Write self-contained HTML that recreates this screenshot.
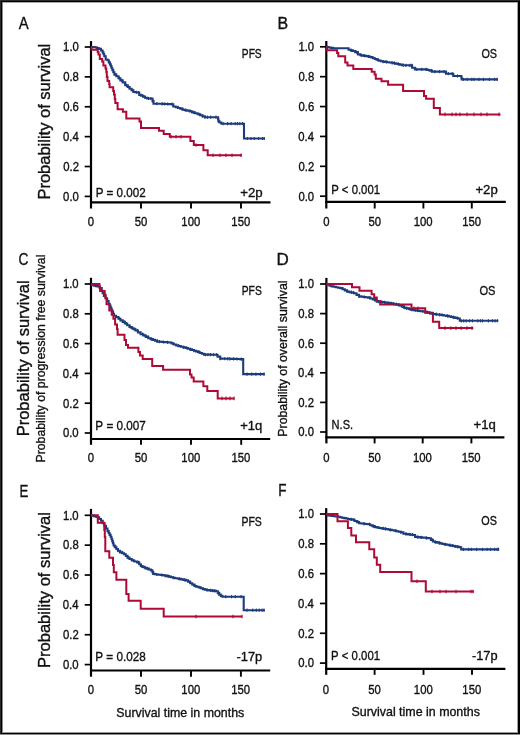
<!DOCTYPE html>
<html><head><meta charset="utf-8"><style>
html,body{margin:0;padding:0;background:#fff;}
body{width:520px;height:735px;overflow:hidden;}
svg{display:block;will-change:transform;}
#w{width:520px;height:735px;}
text{font-family:"Liberation Sans",sans-serif;font-kerning:none;stroke:#111;stroke-width:0.35px;}
</style></head><body>
<div id="w">
<svg width="520" height="735" viewBox="0 0 520 735">
<rect x="0" y="0" width="520" height="735" fill="#fff"/>
<g shape-rendering="crispEdges">
<rect x="0" y="0" width="520" height="1" fill="#2a2a2a"/>
<rect x="0" y="0" width="1" height="735" fill="#2a2a2a"/>
<rect x="1" y="1" width="519" height="1" fill="#000"/>
<rect x="1" y="1" width="1" height="733" fill="#000"/>
<rect x="2" y="2" width="515" height="1" fill="#a8a8a8"/>
<rect x="2" y="2" width="1" height="730" fill="#8a8a8a"/>
<rect x="517" y="2" width="1" height="731" fill="#a0a0a0"/>
<rect x="518" y="1" width="2" height="733" fill="#000"/>
<rect x="2" y="732" width="516" height="1" fill="#9a9a9a"/>
<rect x="1" y="733" width="519" height="1" fill="#000"/>
<rect x="0" y="734" width="520" height="1" fill="#8c8c8c"/>
</g>
<line x1="91.0" y1="41.1" x2="91.0" y2="208.5" stroke="#000" stroke-width="2.2" stroke-linecap="butt"/>
<line x1="90.0" y1="202.3" x2="270.5" y2="202.3" stroke="#000" stroke-width="2.2" stroke-linecap="butt"/>
<line x1="84.7" y1="47.0" x2="91.0" y2="47.0" stroke="#000" stroke-width="1.7" stroke-linecap="butt"/>
<text x="63.11" y="51.30" font-size="12.3" textLength="15.73" lengthAdjust="spacingAndGlyphs" fill="#111">1.0</text>
<line x1="84.7" y1="76.88" x2="91.0" y2="76.88" stroke="#000" stroke-width="1.7" stroke-linecap="butt"/>
<text x="63.16" y="81.18" font-size="12.3" textLength="15.73" lengthAdjust="spacingAndGlyphs" fill="#111">0.8</text>
<line x1="84.7" y1="106.76" x2="91.0" y2="106.76" stroke="#000" stroke-width="1.7" stroke-linecap="butt"/>
<text x="63.17" y="111.06" font-size="12.3" textLength="15.73" lengthAdjust="spacingAndGlyphs" fill="#111">0.6</text>
<line x1="84.7" y1="136.64" x2="91.0" y2="136.64" stroke="#000" stroke-width="1.7" stroke-linecap="butt"/>
<text x="63.00" y="140.94" font-size="12.3" textLength="15.73" lengthAdjust="spacingAndGlyphs" fill="#111">0.4</text>
<line x1="84.7" y1="166.52" x2="91.0" y2="166.52" stroke="#000" stroke-width="1.7" stroke-linecap="butt"/>
<text x="63.24" y="170.82" font-size="12.3" textLength="15.73" lengthAdjust="spacingAndGlyphs" fill="#111">0.2</text>
<line x1="84.7" y1="196.4" x2="91.0" y2="196.4" stroke="#000" stroke-width="1.7" stroke-linecap="butt"/>
<text x="63.11" y="200.70" font-size="12.3" textLength="15.73" lengthAdjust="spacingAndGlyphs" fill="#111">0.0</text>
<text x="87.85" y="225.70" font-size="12.3" textLength="6.29" lengthAdjust="spacingAndGlyphs" fill="#111">0</text>
<line x1="141" y1="202.3" x2="141" y2="208.5" stroke="#000" stroke-width="1.9" stroke-linecap="butt"/>
<text x="134.70" y="225.70" font-size="12.3" textLength="12.59" lengthAdjust="spacingAndGlyphs" fill="#111">50</text>
<line x1="191" y1="202.3" x2="191" y2="208.5" stroke="#000" stroke-width="1.9" stroke-linecap="butt"/>
<text x="181.35" y="225.70" font-size="12.3" textLength="18.88" lengthAdjust="spacingAndGlyphs" fill="#111">100</text>
<line x1="241" y1="202.3" x2="241" y2="208.5" stroke="#000" stroke-width="1.9" stroke-linecap="butt"/>
<text x="231.35" y="225.70" font-size="12.3" textLength="18.88" lengthAdjust="spacingAndGlyphs" fill="#111">150</text>
<line x1="326.3" y1="41.0" x2="326.3" y2="208.5" stroke="#000" stroke-width="2.2" stroke-linecap="butt"/>
<line x1="325.3" y1="201.9" x2="505.8" y2="201.9" stroke="#000" stroke-width="2.2" stroke-linecap="butt"/>
<line x1="320.0" y1="46.8" x2="326.3" y2="46.8" stroke="#000" stroke-width="1.7" stroke-linecap="butt"/>
<text x="298.41" y="51.10" font-size="12.3" textLength="15.73" lengthAdjust="spacingAndGlyphs" fill="#111">1.0</text>
<line x1="320.0" y1="76.68" x2="326.3" y2="76.68" stroke="#000" stroke-width="1.7" stroke-linecap="butt"/>
<text x="298.46" y="80.98" font-size="12.3" textLength="15.73" lengthAdjust="spacingAndGlyphs" fill="#111">0.8</text>
<line x1="320.0" y1="106.56" x2="326.3" y2="106.56" stroke="#000" stroke-width="1.7" stroke-linecap="butt"/>
<text x="298.47" y="110.86" font-size="12.3" textLength="15.73" lengthAdjust="spacingAndGlyphs" fill="#111">0.6</text>
<line x1="320.0" y1="136.44" x2="326.3" y2="136.44" stroke="#000" stroke-width="1.7" stroke-linecap="butt"/>
<text x="298.30" y="140.74" font-size="12.3" textLength="15.73" lengthAdjust="spacingAndGlyphs" fill="#111">0.4</text>
<line x1="320.0" y1="166.32" x2="326.3" y2="166.32" stroke="#000" stroke-width="1.7" stroke-linecap="butt"/>
<text x="298.54" y="170.62" font-size="12.3" textLength="15.73" lengthAdjust="spacingAndGlyphs" fill="#111">0.2</text>
<line x1="320.0" y1="196.2" x2="326.3" y2="196.2" stroke="#000" stroke-width="1.7" stroke-linecap="butt"/>
<text x="298.41" y="200.50" font-size="12.3" textLength="15.73" lengthAdjust="spacingAndGlyphs" fill="#111">0.0</text>
<text x="323.15" y="225.80" font-size="12.3" textLength="6.29" lengthAdjust="spacingAndGlyphs" fill="#111">0</text>
<line x1="374.7" y1="201.9" x2="374.7" y2="208.5" stroke="#000" stroke-width="1.9" stroke-linecap="butt"/>
<text x="368.40" y="225.80" font-size="12.3" textLength="12.59" lengthAdjust="spacingAndGlyphs" fill="#111">50</text>
<line x1="423.4" y1="201.9" x2="423.4" y2="208.5" stroke="#000" stroke-width="1.9" stroke-linecap="butt"/>
<text x="413.75" y="225.80" font-size="12.3" textLength="18.88" lengthAdjust="spacingAndGlyphs" fill="#111">100</text>
<line x1="471.8" y1="201.9" x2="471.8" y2="208.5" stroke="#000" stroke-width="1.9" stroke-linecap="butt"/>
<text x="462.15" y="225.80" font-size="12.3" textLength="18.88" lengthAdjust="spacingAndGlyphs" fill="#111">150</text>
<line x1="91.0" y1="277.8" x2="91.0" y2="444.8" stroke="#000" stroke-width="2.2" stroke-linecap="butt"/>
<line x1="90.0" y1="439.0" x2="270.2" y2="439.0" stroke="#000" stroke-width="2.2" stroke-linecap="butt"/>
<line x1="84.7" y1="284.0" x2="91.0" y2="284.0" stroke="#000" stroke-width="1.7" stroke-linecap="butt"/>
<text x="62.91" y="288.30" font-size="12.3" textLength="15.73" lengthAdjust="spacingAndGlyphs" fill="#111">1.0</text>
<line x1="84.7" y1="313.8" x2="91.0" y2="313.8" stroke="#000" stroke-width="1.7" stroke-linecap="butt"/>
<text x="62.96" y="318.10" font-size="12.3" textLength="15.73" lengthAdjust="spacingAndGlyphs" fill="#111">0.8</text>
<line x1="84.7" y1="343.6" x2="91.0" y2="343.6" stroke="#000" stroke-width="1.7" stroke-linecap="butt"/>
<text x="62.97" y="347.90" font-size="12.3" textLength="15.73" lengthAdjust="spacingAndGlyphs" fill="#111">0.6</text>
<line x1="84.7" y1="373.4" x2="91.0" y2="373.4" stroke="#000" stroke-width="1.7" stroke-linecap="butt"/>
<text x="62.80" y="377.70" font-size="12.3" textLength="15.73" lengthAdjust="spacingAndGlyphs" fill="#111">0.4</text>
<line x1="84.7" y1="403.2" x2="91.0" y2="403.2" stroke="#000" stroke-width="1.7" stroke-linecap="butt"/>
<text x="63.04" y="407.50" font-size="12.3" textLength="15.73" lengthAdjust="spacingAndGlyphs" fill="#111">0.2</text>
<line x1="84.7" y1="433.0" x2="91.0" y2="433.0" stroke="#000" stroke-width="1.7" stroke-linecap="butt"/>
<text x="62.91" y="437.30" font-size="12.3" textLength="15.73" lengthAdjust="spacingAndGlyphs" fill="#111">0.0</text>
<text x="87.85" y="461.90" font-size="12.3" textLength="6.29" lengthAdjust="spacingAndGlyphs" fill="#111">0</text>
<line x1="141" y1="439.0" x2="141" y2="444.8" stroke="#000" stroke-width="1.9" stroke-linecap="butt"/>
<text x="134.70" y="461.90" font-size="12.3" textLength="12.59" lengthAdjust="spacingAndGlyphs" fill="#111">50</text>
<line x1="191" y1="439.0" x2="191" y2="444.8" stroke="#000" stroke-width="1.9" stroke-linecap="butt"/>
<text x="181.35" y="461.90" font-size="12.3" textLength="18.88" lengthAdjust="spacingAndGlyphs" fill="#111">100</text>
<line x1="241.2" y1="439.0" x2="241.2" y2="444.8" stroke="#000" stroke-width="1.9" stroke-linecap="butt"/>
<text x="231.55" y="461.90" font-size="12.3" textLength="18.88" lengthAdjust="spacingAndGlyphs" fill="#111">150</text>
<line x1="326.4" y1="277.9" x2="326.4" y2="443.4" stroke="#000" stroke-width="2.2" stroke-linecap="butt"/>
<line x1="325.4" y1="437.4" x2="504.4" y2="437.4" stroke="#000" stroke-width="2.2" stroke-linecap="butt"/>
<line x1="320.09999999999997" y1="284.0" x2="326.4" y2="284.0" stroke="#000" stroke-width="1.7" stroke-linecap="butt"/>
<text x="298.21" y="288.30" font-size="12.3" textLength="15.73" lengthAdjust="spacingAndGlyphs" fill="#111">1.0</text>
<line x1="320.09999999999997" y1="313.6" x2="326.4" y2="313.6" stroke="#000" stroke-width="1.7" stroke-linecap="butt"/>
<text x="298.26" y="317.90" font-size="12.3" textLength="15.73" lengthAdjust="spacingAndGlyphs" fill="#111">0.8</text>
<line x1="320.09999999999997" y1="343.2" x2="326.4" y2="343.2" stroke="#000" stroke-width="1.7" stroke-linecap="butt"/>
<text x="298.27" y="347.50" font-size="12.3" textLength="15.73" lengthAdjust="spacingAndGlyphs" fill="#111">0.6</text>
<line x1="320.09999999999997" y1="372.8" x2="326.4" y2="372.8" stroke="#000" stroke-width="1.7" stroke-linecap="butt"/>
<text x="298.10" y="377.10" font-size="12.3" textLength="15.73" lengthAdjust="spacingAndGlyphs" fill="#111">0.4</text>
<line x1="320.09999999999997" y1="402.4" x2="326.4" y2="402.4" stroke="#000" stroke-width="1.7" stroke-linecap="butt"/>
<text x="298.34" y="406.70" font-size="12.3" textLength="15.73" lengthAdjust="spacingAndGlyphs" fill="#111">0.2</text>
<line x1="320.09999999999997" y1="432.0" x2="326.4" y2="432.0" stroke="#000" stroke-width="1.7" stroke-linecap="butt"/>
<text x="298.21" y="436.30" font-size="12.3" textLength="15.73" lengthAdjust="spacingAndGlyphs" fill="#111">0.0</text>
<text x="323.25" y="462.00" font-size="12.3" textLength="6.29" lengthAdjust="spacingAndGlyphs" fill="#111">0</text>
<line x1="374.6" y1="437.4" x2="374.6" y2="443.4" stroke="#000" stroke-width="1.9" stroke-linecap="butt"/>
<text x="368.30" y="462.00" font-size="12.3" textLength="12.59" lengthAdjust="spacingAndGlyphs" fill="#111">50</text>
<line x1="422.7" y1="437.4" x2="422.7" y2="443.4" stroke="#000" stroke-width="1.9" stroke-linecap="butt"/>
<text x="413.05" y="462.00" font-size="12.3" textLength="18.88" lengthAdjust="spacingAndGlyphs" fill="#111">100</text>
<line x1="471.4" y1="437.4" x2="471.4" y2="443.4" stroke="#000" stroke-width="1.9" stroke-linecap="butt"/>
<text x="461.75" y="462.00" font-size="12.3" textLength="18.88" lengthAdjust="spacingAndGlyphs" fill="#111">150</text>
<line x1="91.0" y1="508.9" x2="91.0" y2="676.7" stroke="#000" stroke-width="2.2" stroke-linecap="butt"/>
<line x1="90.0" y1="670.5" x2="270.2" y2="670.5" stroke="#000" stroke-width="2.2" stroke-linecap="butt"/>
<line x1="84.7" y1="515.3" x2="91.0" y2="515.3" stroke="#000" stroke-width="1.7" stroke-linecap="butt"/>
<text x="62.91" y="519.60" font-size="12.3" textLength="15.73" lengthAdjust="spacingAndGlyphs" fill="#111">1.0</text>
<line x1="84.7" y1="545.16" x2="91.0" y2="545.16" stroke="#000" stroke-width="1.7" stroke-linecap="butt"/>
<text x="62.96" y="549.46" font-size="12.3" textLength="15.73" lengthAdjust="spacingAndGlyphs" fill="#111">0.8</text>
<line x1="84.7" y1="575.02" x2="91.0" y2="575.02" stroke="#000" stroke-width="1.7" stroke-linecap="butt"/>
<text x="62.97" y="579.32" font-size="12.3" textLength="15.73" lengthAdjust="spacingAndGlyphs" fill="#111">0.6</text>
<line x1="84.7" y1="604.88" x2="91.0" y2="604.88" stroke="#000" stroke-width="1.7" stroke-linecap="butt"/>
<text x="62.80" y="609.18" font-size="12.3" textLength="15.73" lengthAdjust="spacingAndGlyphs" fill="#111">0.4</text>
<line x1="84.7" y1="634.74" x2="91.0" y2="634.74" stroke="#000" stroke-width="1.7" stroke-linecap="butt"/>
<text x="63.04" y="639.04" font-size="12.3" textLength="15.73" lengthAdjust="spacingAndGlyphs" fill="#111">0.2</text>
<line x1="84.7" y1="664.6" x2="91.0" y2="664.6" stroke="#000" stroke-width="1.7" stroke-linecap="butt"/>
<text x="62.91" y="668.90" font-size="12.3" textLength="15.73" lengthAdjust="spacingAndGlyphs" fill="#111">0.0</text>
<text x="87.85" y="693.80" font-size="12.3" textLength="6.29" lengthAdjust="spacingAndGlyphs" fill="#111">0</text>
<line x1="141" y1="670.5" x2="141" y2="676.7" stroke="#000" stroke-width="1.9" stroke-linecap="butt"/>
<text x="134.70" y="693.80" font-size="12.3" textLength="12.59" lengthAdjust="spacingAndGlyphs" fill="#111">50</text>
<line x1="191" y1="670.5" x2="191" y2="676.7" stroke="#000" stroke-width="1.9" stroke-linecap="butt"/>
<text x="181.35" y="693.80" font-size="12.3" textLength="18.88" lengthAdjust="spacingAndGlyphs" fill="#111">100</text>
<line x1="240.9" y1="670.5" x2="240.9" y2="676.7" stroke="#000" stroke-width="1.9" stroke-linecap="butt"/>
<text x="231.25" y="693.80" font-size="12.3" textLength="18.88" lengthAdjust="spacingAndGlyphs" fill="#111">150</text>
<line x1="326.2" y1="508.1" x2="326.2" y2="674.8" stroke="#000" stroke-width="2.2" stroke-linecap="butt"/>
<line x1="325.2" y1="668.9" x2="505.4" y2="668.9" stroke="#000" stroke-width="2.2" stroke-linecap="butt"/>
<line x1="319.9" y1="514.0" x2="326.2" y2="514.0" stroke="#000" stroke-width="1.7" stroke-linecap="butt"/>
<text x="298.21" y="518.30" font-size="12.3" textLength="15.73" lengthAdjust="spacingAndGlyphs" fill="#111">1.0</text>
<line x1="319.9" y1="543.82" x2="326.2" y2="543.82" stroke="#000" stroke-width="1.7" stroke-linecap="butt"/>
<text x="298.26" y="548.12" font-size="12.3" textLength="15.73" lengthAdjust="spacingAndGlyphs" fill="#111">0.8</text>
<line x1="319.9" y1="573.64" x2="326.2" y2="573.64" stroke="#000" stroke-width="1.7" stroke-linecap="butt"/>
<text x="298.27" y="577.94" font-size="12.3" textLength="15.73" lengthAdjust="spacingAndGlyphs" fill="#111">0.6</text>
<line x1="319.9" y1="603.46" x2="326.2" y2="603.46" stroke="#000" stroke-width="1.7" stroke-linecap="butt"/>
<text x="298.10" y="607.76" font-size="12.3" textLength="15.73" lengthAdjust="spacingAndGlyphs" fill="#111">0.4</text>
<line x1="319.9" y1="633.28" x2="326.2" y2="633.28" stroke="#000" stroke-width="1.7" stroke-linecap="butt"/>
<text x="298.34" y="637.58" font-size="12.3" textLength="15.73" lengthAdjust="spacingAndGlyphs" fill="#111">0.2</text>
<line x1="319.9" y1="663.1" x2="326.2" y2="663.1" stroke="#000" stroke-width="1.7" stroke-linecap="butt"/>
<text x="298.21" y="667.40" font-size="12.3" textLength="15.73" lengthAdjust="spacingAndGlyphs" fill="#111">0.0</text>
<text x="322.75" y="693.80" font-size="12.3" textLength="6.29" lengthAdjust="spacingAndGlyphs" fill="#111">0</text>
<line x1="374.6" y1="668.9" x2="374.6" y2="674.8" stroke="#000" stroke-width="1.9" stroke-linecap="butt"/>
<text x="368.30" y="693.80" font-size="12.3" textLength="12.59" lengthAdjust="spacingAndGlyphs" fill="#111">50</text>
<line x1="423.5" y1="668.9" x2="423.5" y2="674.8" stroke="#000" stroke-width="1.9" stroke-linecap="butt"/>
<text x="413.85" y="693.80" font-size="12.3" textLength="18.88" lengthAdjust="spacingAndGlyphs" fill="#111">100</text>
<line x1="472.0" y1="668.9" x2="472.0" y2="674.8" stroke="#000" stroke-width="1.9" stroke-linecap="butt"/>
<text x="462.35" y="693.80" font-size="12.3" textLength="18.88" lengthAdjust="spacingAndGlyphs" fill="#111">150</text>
<text x="18.87" y="28.60" font-size="17" textLength="9.91" lengthAdjust="spacingAndGlyphs" fill="#111">A</text>
<text x="277.39" y="28.60" font-size="17" textLength="10.65" lengthAdjust="spacingAndGlyphs" fill="#111">B</text>
<text x="18.60" y="265.20" font-size="17" textLength="9.92" lengthAdjust="spacingAndGlyphs" fill="#111">C</text>
<text x="276.60" y="265.40" font-size="17" textLength="12.31" lengthAdjust="spacingAndGlyphs" fill="#111">D</text>
<text x="19.51" y="496.80" font-size="17" textLength="8.86" lengthAdjust="spacingAndGlyphs" fill="#111">E</text>
<text x="278.29" y="495.50" font-size="17" textLength="8.25" lengthAdjust="spacingAndGlyphs" fill="#111">F</text>
<text x="241.86" y="57.50" font-size="13" textLength="19.80" lengthAdjust="spacingAndGlyphs" fill="#111">PFS</text>
<text x="481.39" y="57.80" font-size="13" textLength="15.61" lengthAdjust="spacingAndGlyphs" fill="#111">OS</text>
<text x="241.76" y="294.70" font-size="13" textLength="20.02" lengthAdjust="spacingAndGlyphs" fill="#111">PFS</text>
<text x="479.47" y="294.80" font-size="13" textLength="16.04" lengthAdjust="spacingAndGlyphs" fill="#111">OS</text>
<text x="241.44" y="526.00" font-size="13" textLength="20.34" lengthAdjust="spacingAndGlyphs" fill="#111">PFS</text>
<text x="481.29" y="525.00" font-size="13" textLength="15.61" lengthAdjust="spacingAndGlyphs" fill="#111">OS</text>
<text x="95.65" y="196.70" font-size="13" textLength="50.04" lengthAdjust="spacingAndGlyphs" fill="#111">P = 0.002</text>
<text x="331.17" y="193.60" font-size="13" textLength="48.88" lengthAdjust="spacingAndGlyphs" fill="#111">P &lt; 0.001</text>
<text x="95.34" y="429.80" font-size="13" textLength="50.45" lengthAdjust="spacingAndGlyphs" fill="#111">P = 0.007</text>
<text x="331.59" y="428.70" font-size="13" textLength="21.52" lengthAdjust="spacingAndGlyphs" fill="#111">N.S.</text>
<text x="95.34" y="661.20" font-size="13" textLength="50.37" lengthAdjust="spacingAndGlyphs" fill="#111">P = 0.028</text>
<text x="331.07" y="659.90" font-size="13" textLength="48.99" lengthAdjust="spacingAndGlyphs" fill="#111">P &lt; 0.001</text>
<text x="240.15" y="196.80" font-size="13" textLength="22.50" lengthAdjust="spacingAndGlyphs" fill="#111">+2p</text>
<text x="475.46" y="194.10" font-size="13" textLength="22.29" lengthAdjust="spacingAndGlyphs" fill="#111">+2p</text>
<text x="240.26" y="429.70" font-size="13" textLength="22.07" lengthAdjust="spacingAndGlyphs" fill="#111">+1q</text>
<text x="473.56" y="428.70" font-size="13" textLength="22.28" lengthAdjust="spacingAndGlyphs" fill="#111">+1q</text>
<text x="236.43" y="661.30" font-size="13" textLength="25.81" lengthAdjust="spacingAndGlyphs" fill="#111">-17p</text>
<text x="471.93" y="660.00" font-size="13" textLength="25.61" lengthAdjust="spacingAndGlyphs" fill="#111">-17p</text>
<text transform="translate(49.90,198.20) rotate(-90)" x="-1.35" y="0" font-size="17" textLength="155.76" lengthAdjust="spacingAndGlyphs" fill="#111">Probability of survival</text>
<text transform="translate(28.90,435.00) rotate(-90)" x="-1.35" y="0" font-size="17" textLength="155.96" lengthAdjust="spacingAndGlyphs" fill="#111">Probability of survival</text>
<text transform="translate(49.90,666.60) rotate(-90)" x="-1.35" y="0" font-size="17" textLength="155.86" lengthAdjust="spacingAndGlyphs" fill="#111">Probability of survival</text>
<text transform="translate(44.80,461.50) rotate(-90)" x="-1.01" y="0" font-size="13" textLength="207.93" lengthAdjust="spacingAndGlyphs" fill="#111">Probability of progression free survival</text>
<text transform="translate(286.70,435.70) rotate(-90)" x="-1.01" y="0" font-size="12.6" textLength="156.24" lengthAdjust="spacingAndGlyphs" fill="#111">Probability of overall survival</text>
<text x="116.34" y="717.00" font-size="13" textLength="127.91" lengthAdjust="spacingAndGlyphs" fill="#111">Survival time in months</text>
<text x="351.54" y="716.00" font-size="13" textLength="128.31" lengthAdjust="spacingAndGlyphs" fill="#111">Survival time in months</text>
<polyline points="91.0,47.0 92.2,47.0 92.2,47.1 94.5,47.1 94.5,47.3 95.7,47.3 96.7,47.3 96.7,48.1 98.8,48.1 98.8,48.9 99.8,48.9 101.0,48.9 101.0,50.5 102.2,50.5 102.6,50.5 102.6,52.4 103.5,52.4 103.5,54.3 104.3,54.3 104.3,56.2 104.7,56.2 105.7,56.2 105.7,59.5 106.7,59.5 107.5,59.5 107.5,60.3 108.3,60.3 108.8,60.3 108.8,62.4 109.9,62.4 109.9,64.4 110.4,64.4 110.8,64.4 110.8,66.3 111.6,66.3 111.6,68.2 112.4,68.2 112.4,70.1 112.8,70.1 113.3,70.1 113.3,72.3 114.4,72.3 114.4,74.6 114.9,74.6 116.3,74.6 116.3,76.2 117.7,76.2 118.5,76.2 118.5,78.2 119.3,78.2 120.4,78.2 120.4,80.4 121.5,80.4 122.7,80.4 122.7,82.4 123.8,82.4 125.2,82.4 125.2,85.3 126.7,85.3 127.7,85.3 127.7,87.0 129.6,87.0 129.6,88.7 130.6,88.7 131.6,88.7 131.6,90.3 133.4,90.3 133.4,92.0 134.4,92.0 135.4,92.0 135.4,92.2 137.3,92.2 137.3,92.5 138.3,92.5 139.2,92.5 139.2,94.9 140.2,94.9 141.1,94.9 141.1,95.8 143.1,95.8 143.1,96.8 144.0,96.8 145.0,96.8 145.0,97.7 147.0,97.7 147.0,98.5 148.0,98.5 152.0,98.5 152.5,98.5 152.5,101.1 153.5,101.1 153.5,103.7 154.0,103.7 159.0,103.7 160.1,103.7 160.1,103.8 162.2,103.8 162.2,103.9 164.4,103.9 164.4,104.0 166.6,104.0 166.6,104.0 168.8,104.0 168.8,104.1 170.9,104.1 170.9,104.2 172.0,104.2 173.3,104.2 173.3,106.5 174.6,106.5 175.7,106.5 175.7,107.2 178.0,107.2 178.0,108.0 179.2,108.0 180.3,108.0 180.3,108.8 182.7,108.8 182.7,109.7 183.8,109.7 185.0,109.7 185.0,110.2 187.3,110.2 187.3,110.6 188.5,110.6 189.8,110.6 189.8,111.5 192.2,111.5 192.2,112.4 193.5,112.4 194.9,112.4 194.9,113.3 197.6,113.3 197.6,114.3 199.0,114.3 200.2,114.3 200.2,115.3 202.5,115.3 202.5,116.2 204.8,116.2 204.8,117.2 206.0,117.2 218.0,117.2 218.1,117.2 218.1,119.2 218.4,119.2 218.4,121.2 218.5,121.2 219.5,121.2 219.5,122.5 221.4,122.5 221.4,123.7 222.4,123.7 244.0,123.7 244.0,138.5 265.0,138.5" fill="none" stroke="#1d3c7c" stroke-width="2.1" stroke-linejoin="miter" stroke-linecap="butt"/>
<polyline points="91.0,47.0 91.5,47.0 91.5,49.7 97.7,49.7 97.7,52.0 98.5,52.0 98.5,54.6 99.8,54.6 99.8,59.1 102.2,59.1 102.2,61.5 103.4,61.5 103.4,65.6 105.5,65.6 105.5,68.4 106.3,68.4 106.3,72.0 106.8,72.0 106.8,77.0 107.5,77.0 107.5,81.1 109.2,81.1 109.2,84.0 109.6,84.0 109.6,87.2 113.2,87.2 113.2,91.0 114.0,91.0 114.0,94.5 114.8,94.5 114.8,99.0 115.3,99.0 115.3,103.1 117.6,103.1 117.6,109.3 122.9,109.3 122.9,111.7 126.3,111.7 126.3,118.5 139.5,118.5 139.5,121.5 141.0,121.5 141.0,128.0 159.0,128.0 159.0,130.8 163.7,130.8 163.7,134.0 169.8,134.0 169.8,136.8 190.4,136.8 190.4,141.0 193.8,141.0 193.8,145.0 203.4,145.0 203.4,150.2 207.7,150.2 207.7,155.2 242.0,155.2" fill="none" stroke="#ad0a35" stroke-width="2.0" stroke-linejoin="miter" stroke-linecap="butt"/>
<line x1="116.0" y1="73.0" x2="116.0" y2="76.2" stroke="#1d3c7c" stroke-width="1.1"/>
<line x1="119.3" y1="76.6" x2="119.3" y2="79.8" stroke="#1d3c7c" stroke-width="1.1"/>
<line x1="121.9" y1="78.8" x2="121.9" y2="82.0" stroke="#1d3c7c" stroke-width="1.1"/>
<line x1="126.5" y1="83.7" x2="126.5" y2="86.9" stroke="#1d3c7c" stroke-width="1.1"/>
<line x1="128.8" y1="85.4" x2="128.8" y2="88.6" stroke="#1d3c7c" stroke-width="1.1"/>
<line x1="132.9" y1="88.8" x2="132.9" y2="91.9" stroke="#1d3c7c" stroke-width="1.1"/>
<line x1="136.4" y1="90.7" x2="136.4" y2="93.8" stroke="#1d3c7c" stroke-width="1.1"/>
<line x1="138.6" y1="90.9" x2="138.6" y2="94.1" stroke="#1d3c7c" stroke-width="1.1"/>
<line x1="142.7" y1="94.2" x2="142.7" y2="97.4" stroke="#1d3c7c" stroke-width="1.1"/>
<line x1="144.8" y1="95.2" x2="144.8" y2="98.4" stroke="#1d3c7c" stroke-width="1.1"/>
<line x1="148.5" y1="96.9" x2="148.5" y2="100.1" stroke="#1d3c7c" stroke-width="1.1"/>
<line x1="150.8" y1="96.9" x2="150.8" y2="100.1" stroke="#1d3c7c" stroke-width="1.1"/>
<line x1="153.2" y1="99.5" x2="153.2" y2="102.7" stroke="#1d3c7c" stroke-width="1.1"/>
<line x1="156.9" y1="102.1" x2="156.9" y2="105.3" stroke="#1d3c7c" stroke-width="1.1"/>
<line x1="162.2" y1="102.2" x2="162.2" y2="105.4" stroke="#1d3c7c" stroke-width="1.1"/>
<line x1="164.7" y1="102.4" x2="164.7" y2="105.5" stroke="#1d3c7c" stroke-width="1.1"/>
<line x1="167.6" y1="102.4" x2="167.6" y2="105.6" stroke="#1d3c7c" stroke-width="1.1"/>
<line x1="172.1" y1="102.6" x2="172.1" y2="105.8" stroke="#1d3c7c" stroke-width="1.1"/>
<line x1="177.9" y1="105.7" x2="177.9" y2="108.8" stroke="#1d3c7c" stroke-width="1.1"/>
<line x1="182.2" y1="107.2" x2="182.2" y2="110.4" stroke="#1d3c7c" stroke-width="1.1"/>
<line x1="185.8" y1="108.6" x2="185.8" y2="111.8" stroke="#1d3c7c" stroke-width="1.1"/>
<line x1="191.7" y1="109.9" x2="191.7" y2="113.1" stroke="#1d3c7c" stroke-width="1.1"/>
<line x1="193.9" y1="110.8" x2="193.9" y2="114.0" stroke="#1d3c7c" stroke-width="1.1"/>
<line x1="199.3" y1="112.7" x2="199.3" y2="115.9" stroke="#1d3c7c" stroke-width="1.1"/>
<line x1="202.5" y1="114.6" x2="202.5" y2="117.8" stroke="#1d3c7c" stroke-width="1.1"/>
<line x1="205.0" y1="115.6" x2="205.0" y2="118.8" stroke="#1d3c7c" stroke-width="1.1"/>
<line x1="207.5" y1="115.6" x2="207.5" y2="118.8" stroke="#1d3c7c" stroke-width="1.1"/>
<line x1="210.7" y1="115.6" x2="210.7" y2="118.8" stroke="#1d3c7c" stroke-width="1.1"/>
<line x1="216.0" y1="115.6" x2="216.0" y2="118.8" stroke="#1d3c7c" stroke-width="1.1"/>
<line x1="218.7" y1="119.6" x2="218.7" y2="122.8" stroke="#1d3c7c" stroke-width="1.1"/>
<line x1="223.1" y1="122.1" x2="223.1" y2="125.3" stroke="#1d3c7c" stroke-width="1.1"/>
<line x1="227.6" y1="122.1" x2="227.6" y2="125.3" stroke="#1d3c7c" stroke-width="1.1"/>
<line x1="231.1" y1="122.1" x2="231.1" y2="125.3" stroke="#1d3c7c" stroke-width="1.1"/>
<line x1="235.3" y1="122.1" x2="235.3" y2="125.3" stroke="#1d3c7c" stroke-width="1.1"/>
<line x1="237.5" y1="122.1" x2="237.5" y2="125.3" stroke="#1d3c7c" stroke-width="1.1"/>
<line x1="239.8" y1="122.1" x2="239.8" y2="125.3" stroke="#1d3c7c" stroke-width="1.1"/>
<line x1="242.6" y1="122.1" x2="242.6" y2="125.3" stroke="#1d3c7c" stroke-width="1.1"/>
<line x1="247.3" y1="136.9" x2="247.3" y2="140.1" stroke="#1d3c7c" stroke-width="1.1"/>
<line x1="251.0" y1="136.9" x2="251.0" y2="140.1" stroke="#1d3c7c" stroke-width="1.1"/>
<line x1="254.3" y1="136.9" x2="254.3" y2="140.1" stroke="#1d3c7c" stroke-width="1.1"/>
<line x1="258.6" y1="136.9" x2="258.6" y2="140.1" stroke="#1d3c7c" stroke-width="1.1"/>
<line x1="262.4" y1="136.9" x2="262.4" y2="140.1" stroke="#1d3c7c" stroke-width="1.1"/>
<line x1="264.2" y1="136.9" x2="264.2" y2="140.1" stroke="#1d3c7c" stroke-width="1.1"/>
<line x1="171.0" y1="135.0" x2="171.0" y2="138.6" stroke="#ad0a35" stroke-width="1.1"/>
<line x1="176.0" y1="135.0" x2="176.0" y2="138.6" stroke="#ad0a35" stroke-width="1.1"/>
<line x1="181.0" y1="135.0" x2="181.0" y2="138.6" stroke="#ad0a35" stroke-width="1.1"/>
<line x1="196.0" y1="143.2" x2="196.0" y2="146.8" stroke="#ad0a35" stroke-width="1.1"/>
<line x1="213.0" y1="153.4" x2="213.0" y2="157.0" stroke="#ad0a35" stroke-width="1.1"/>
<line x1="220.0" y1="153.4" x2="220.0" y2="157.0" stroke="#ad0a35" stroke-width="1.1"/>
<line x1="226.0" y1="153.4" x2="226.0" y2="157.0" stroke="#ad0a35" stroke-width="1.1"/>
<line x1="232.0" y1="153.4" x2="232.0" y2="157.0" stroke="#ad0a35" stroke-width="1.1"/>
<line x1="241.0" y1="153.4" x2="241.0" y2="157.0" stroke="#ad0a35" stroke-width="1.1"/>
<polyline points="326.3,46.8 327.1,46.8 327.1,47.1 328.8,47.1 328.8,47.5 329.6,47.5 330.8,47.5 330.8,47.9 333.1,47.9 333.1,48.3 334.2,48.3 347.5,48.3 348.6,48.3 348.6,49.8 349.8,49.8 350.8,49.8 350.8,50.4 352.8,50.4 352.8,51.0 353.8,51.0 355.2,51.0 355.2,52.1 356.7,52.1 357.9,52.1 357.9,54.4 359.0,54.4 360.4,54.4 360.4,55.3 361.9,55.3 362.8,55.3 362.8,55.6 364.5,55.6 364.5,55.9 365.4,55.9 366.2,55.9 366.2,56.1 367.9,56.1 367.9,56.4 368.8,56.4 369.7,56.4 369.7,57.0 371.4,57.0 371.4,57.5 372.3,57.5 373.2,57.5 373.2,58.2 374.9,58.2 374.9,59.0 375.8,59.0 376.6,59.0 376.6,59.8 378.4,59.8 378.4,60.5 379.2,60.5 380.6,60.5 380.6,61.3 382.1,61.3 383.0,61.3 383.0,61.6 384.9,61.6 384.9,61.9 385.8,61.9 387.0,61.9 387.0,62.2 389.2,62.2 389.2,62.5 391.6,62.5 391.6,62.8 392.7,62.8 393.7,62.8 393.7,63.2 395.6,63.2 395.6,63.6 397.5,63.6 397.5,64.0 398.5,64.0 399.6,64.0 399.6,64.6 402.0,64.6 402.0,65.2 403.1,65.2 404.4,65.2 404.4,65.3 406.9,65.3 406.9,65.3 409.4,65.3 409.4,65.4 410.6,65.4 412.1,65.4 412.1,67.7 413.5,67.7 414.9,67.7 414.9,69.4 416.3,69.4 426.2,69.4 427.4,69.4 427.4,70.0 429.6,70.0 429.6,70.6 430.8,70.6 431.9,70.6 431.9,71.6 433.0,71.6 445.1,71.6 446.0,71.6 446.0,73.7 446.8,73.7 452.9,73.7 453.3,73.7 453.3,76.0 453.7,76.0 461.2,76.0 461.4,76.0 461.4,77.7 461.7,77.7 461.7,79.4 461.9,79.4 497.9,79.4" fill="none" stroke="#1d3c7c" stroke-width="2.1" stroke-linejoin="miter" stroke-linecap="butt"/>
<polyline points="326.3,46.8 327.0,46.8 327.0,50.2 337.1,50.2 337.1,52.9 338.3,52.9 338.3,56.2 345.2,56.2 345.2,62.5 347.5,62.5 347.5,65.6 353.3,65.6 353.3,69.1 371.7,69.1 371.7,71.7 374.6,71.7 374.6,74.6 375.8,74.6 375.8,78.7 381.5,78.7 381.5,81.3 388.1,81.3 388.1,84.8 403.1,84.8 403.1,91.0 424.0,91.0 424.0,95.9 426.1,95.9 426.1,98.8 433.8,98.8 433.8,108.0 439.9,108.0 439.9,114.4 500.5,114.4" fill="none" stroke="#ad0a35" stroke-width="2.0" stroke-linejoin="miter" stroke-linecap="butt"/>
<line x1="351.3" y1="48.8" x2="351.3" y2="52.0" stroke="#1d3c7c" stroke-width="1.1"/>
<line x1="356.5" y1="50.5" x2="356.5" y2="53.7" stroke="#1d3c7c" stroke-width="1.1"/>
<line x1="361.3" y1="53.7" x2="361.3" y2="56.9" stroke="#1d3c7c" stroke-width="1.1"/>
<line x1="364.2" y1="54.0" x2="364.2" y2="57.2" stroke="#1d3c7c" stroke-width="1.1"/>
<line x1="368.5" y1="54.8" x2="368.5" y2="58.0" stroke="#1d3c7c" stroke-width="1.1"/>
<line x1="372.6" y1="55.9" x2="372.6" y2="59.1" stroke="#1d3c7c" stroke-width="1.1"/>
<line x1="378.1" y1="58.1" x2="378.1" y2="61.4" stroke="#1d3c7c" stroke-width="1.1"/>
<line x1="383.1" y1="60.0" x2="383.1" y2="63.2" stroke="#1d3c7c" stroke-width="1.1"/>
<line x1="386.2" y1="60.3" x2="386.2" y2="63.5" stroke="#1d3c7c" stroke-width="1.1"/>
<line x1="392.1" y1="61.2" x2="392.1" y2="64.4" stroke="#1d3c7c" stroke-width="1.1"/>
<line x1="394.6" y1="61.6" x2="394.6" y2="64.8" stroke="#1d3c7c" stroke-width="1.1"/>
<line x1="398.3" y1="62.4" x2="398.3" y2="65.6" stroke="#1d3c7c" stroke-width="1.1"/>
<line x1="403.3" y1="63.6" x2="403.3" y2="66.8" stroke="#1d3c7c" stroke-width="1.1"/>
<line x1="405.9" y1="63.7" x2="405.9" y2="66.9" stroke="#1d3c7c" stroke-width="1.1"/>
<line x1="409.9" y1="63.8" x2="409.9" y2="67.0" stroke="#1d3c7c" stroke-width="1.1"/>
<line x1="412.0" y1="63.8" x2="412.0" y2="67.0" stroke="#1d3c7c" stroke-width="1.1"/>
<line x1="416.7" y1="67.8" x2="416.7" y2="71.0" stroke="#1d3c7c" stroke-width="1.1"/>
<line x1="421.8" y1="67.8" x2="421.8" y2="71.0" stroke="#1d3c7c" stroke-width="1.1"/>
<line x1="426.1" y1="67.8" x2="426.1" y2="71.0" stroke="#1d3c7c" stroke-width="1.1"/>
<line x1="431.6" y1="69.0" x2="431.6" y2="72.2" stroke="#1d3c7c" stroke-width="1.1"/>
<line x1="434.8" y1="70.0" x2="434.8" y2="73.2" stroke="#1d3c7c" stroke-width="1.1"/>
<line x1="439.6" y1="70.0" x2="439.6" y2="73.2" stroke="#1d3c7c" stroke-width="1.1"/>
<line x1="444.0" y1="70.0" x2="444.0" y2="73.2" stroke="#1d3c7c" stroke-width="1.1"/>
<line x1="448.3" y1="72.1" x2="448.3" y2="75.3" stroke="#1d3c7c" stroke-width="1.1"/>
<line x1="452.1" y1="72.1" x2="452.1" y2="75.3" stroke="#1d3c7c" stroke-width="1.1"/>
<line x1="457.5" y1="74.4" x2="457.5" y2="77.6" stroke="#1d3c7c" stroke-width="1.1"/>
<line x1="463.3" y1="77.8" x2="463.3" y2="81.0" stroke="#1d3c7c" stroke-width="1.1"/>
<line x1="467.2" y1="77.8" x2="467.2" y2="81.0" stroke="#1d3c7c" stroke-width="1.1"/>
<line x1="471.8" y1="77.8" x2="471.8" y2="81.0" stroke="#1d3c7c" stroke-width="1.1"/>
<line x1="474.1" y1="77.8" x2="474.1" y2="81.0" stroke="#1d3c7c" stroke-width="1.1"/>
<line x1="478.9" y1="77.8" x2="478.9" y2="81.0" stroke="#1d3c7c" stroke-width="1.1"/>
<line x1="483.4" y1="77.8" x2="483.4" y2="81.0" stroke="#1d3c7c" stroke-width="1.1"/>
<line x1="489.4" y1="77.8" x2="489.4" y2="81.0" stroke="#1d3c7c" stroke-width="1.1"/>
<line x1="494.7" y1="77.8" x2="494.7" y2="81.0" stroke="#1d3c7c" stroke-width="1.1"/>
<line x1="497.1" y1="77.8" x2="497.1" y2="81.0" stroke="#1d3c7c" stroke-width="1.1"/>
<line x1="445.0" y1="112.6" x2="445.0" y2="116.2" stroke="#ad0a35" stroke-width="1.1"/>
<line x1="452.0" y1="112.6" x2="452.0" y2="116.2" stroke="#ad0a35" stroke-width="1.1"/>
<line x1="456.0" y1="112.6" x2="456.0" y2="116.2" stroke="#ad0a35" stroke-width="1.1"/>
<line x1="460.0" y1="112.6" x2="460.0" y2="116.2" stroke="#ad0a35" stroke-width="1.1"/>
<line x1="467.0" y1="112.6" x2="467.0" y2="116.2" stroke="#ad0a35" stroke-width="1.1"/>
<line x1="474.0" y1="112.6" x2="474.0" y2="116.2" stroke="#ad0a35" stroke-width="1.1"/>
<line x1="481.0" y1="112.6" x2="481.0" y2="116.2" stroke="#ad0a35" stroke-width="1.1"/>
<line x1="487.0" y1="112.6" x2="487.0" y2="116.2" stroke="#ad0a35" stroke-width="1.1"/>
<line x1="499.0" y1="112.6" x2="499.0" y2="116.2" stroke="#ad0a35" stroke-width="1.1"/>
<polyline points="91.0,284.0 91.8,284.0 91.8,284.7 92.6,284.7 93.8,284.7 93.8,285.8 94.9,285.8 95.8,285.8 95.8,286.1 97.5,286.1 97.5,286.4 98.4,286.4 99.8,286.4 99.8,288.1 101.3,288.1 101.7,288.1 101.7,290.7 102.6,290.7 102.6,293.3 103.0,293.3 103.9,293.3 103.9,295.9 105.6,295.9 105.6,298.5 106.5,298.5 107.2,298.5 107.2,301.1 108.6,301.1 108.6,303.7 109.3,303.7 109.7,303.7 109.7,305.6 110.5,305.6 110.5,307.6 111.3,307.6 111.3,309.5 111.7,309.5 112.2,309.5 112.2,311.6 113.1,311.6 113.1,313.7 114.0,313.7 114.0,315.8 114.5,315.8 116.0,315.8 116.0,317.0 117.4,317.0 118.4,317.0 118.4,318.7 120.5,318.7 120.5,320.4 121.5,320.4 122.7,320.4 122.7,321.9 124.9,321.9 124.9,323.5 126.1,323.5 127.2,323.5 127.2,325.2 129.5,325.2 129.5,327.0 130.7,327.0 131.7,327.0 131.7,328.2 133.6,328.2 133.6,329.3 135.5,329.3 135.5,330.5 136.5,330.5 137.9,330.5 137.9,332.4 140.6,332.4 140.6,334.2 142.0,334.2 143.3,334.2 143.3,335.5 145.8,335.5 145.8,336.9 148.3,336.9 148.3,338.2 149.6,338.2 150.7,338.2 150.7,339.1 152.9,339.1 152.9,339.9 155.0,339.9 155.0,340.8 157.2,340.8 157.2,341.6 158.3,341.6 159.5,341.6 159.5,341.8 161.9,341.8 161.9,342.0 164.3,342.0 164.3,342.1 166.8,342.1 166.8,342.3 169.2,342.3 169.2,342.5 170.4,342.5 171.6,342.5 171.6,343.5 173.8,343.5 173.8,344.5 176.2,344.5 176.2,345.5 177.3,345.5 178.5,345.5 178.5,346.1 180.9,346.1 180.9,346.8 183.4,346.8 183.4,347.4 185.8,347.4 185.8,348.0 187.0,348.0 188.0,348.0 188.0,348.7 190.0,348.7 190.0,349.4 192.0,349.4 192.0,350.0 194.0,350.0 194.0,350.7 196.0,350.7 196.0,351.4 197.0,351.4 198.0,351.4 198.0,352.2 200.0,352.2 200.0,353.0 202.0,353.0 202.0,353.8 204.0,353.8 204.0,354.6 205.0,354.6 206.1,354.6 206.1,354.6 208.4,354.6 208.4,354.6 210.7,354.6 210.7,354.7 212.9,354.7 212.9,354.7 215.2,354.7 215.2,354.7 216.3,354.7 217.6,354.7 217.6,356.6 220.2,356.6 220.2,358.6 221.5,358.6 222.6,358.6 222.6,358.7 224.8,358.7 224.8,358.7 226.9,358.7 226.9,358.8 229.1,358.8 229.1,358.8 231.3,358.8 231.3,358.9 233.4,358.9 233.4,358.9 235.6,358.9 235.6,359.0 237.8,359.0 237.8,359.0 239.9,359.0 239.9,359.1 242.1,359.1 242.1,359.1 243.2,359.1 243.2,374.1 264.8,374.1" fill="none" stroke="#1d3c7c" stroke-width="2.1" stroke-linejoin="miter" stroke-linecap="butt"/>
<polyline points="91.0,284.0 99.5,284.0 99.5,287.5 100.1,287.5 100.1,291.0 104.7,291.0 104.7,294.5 105.5,294.5 105.5,297.9 106.5,297.9 106.5,304.3 109.3,304.3 109.3,310.6 111.7,310.6 111.7,314.7 113.4,314.7 113.4,318.7 115.1,318.7 115.1,324.5 117.0,324.5 117.0,329.0 117.6,329.0 117.6,334.7 124.5,334.7 124.5,340.0 126.0,340.0 126.0,345.1 128.0,345.1 128.0,347.7 138.4,347.7 138.4,352.0 140.0,352.0 140.0,355.5 142.7,355.5 142.7,358.9 152.2,358.9 152.2,365.9 163.1,365.9 163.1,369.8 190.0,369.8 190.0,374.5 191.5,374.5 191.5,377.6 193.7,377.6 193.7,381.6 203.4,381.6 203.4,386.2 207.3,386.2 207.3,391.1 217.7,391.1 217.7,398.4 234.5,398.4" fill="none" stroke="#ad0a35" stroke-width="2.0" stroke-linejoin="miter" stroke-linecap="butt"/>
<line x1="116.0" y1="315.4" x2="116.0" y2="318.6" stroke="#1d3c7c" stroke-width="1.1"/>
<line x1="119.5" y1="317.1" x2="119.5" y2="320.3" stroke="#1d3c7c" stroke-width="1.1"/>
<line x1="124.2" y1="320.3" x2="124.2" y2="323.6" stroke="#1d3c7c" stroke-width="1.1"/>
<line x1="126.3" y1="321.9" x2="126.3" y2="325.1" stroke="#1d3c7c" stroke-width="1.1"/>
<line x1="130.2" y1="325.4" x2="130.2" y2="328.6" stroke="#1d3c7c" stroke-width="1.1"/>
<line x1="132.8" y1="326.6" x2="132.8" y2="329.8" stroke="#1d3c7c" stroke-width="1.1"/>
<line x1="135.3" y1="327.7" x2="135.3" y2="330.9" stroke="#1d3c7c" stroke-width="1.1"/>
<line x1="137.5" y1="328.9" x2="137.5" y2="332.1" stroke="#1d3c7c" stroke-width="1.1"/>
<line x1="142.6" y1="332.6" x2="142.6" y2="335.8" stroke="#1d3c7c" stroke-width="1.1"/>
<line x1="145.1" y1="333.9" x2="145.1" y2="337.1" stroke="#1d3c7c" stroke-width="1.1"/>
<line x1="148.1" y1="335.3" x2="148.1" y2="338.5" stroke="#1d3c7c" stroke-width="1.1"/>
<line x1="151.7" y1="337.4" x2="151.7" y2="340.7" stroke="#1d3c7c" stroke-width="1.1"/>
<line x1="157.2" y1="339.1" x2="157.2" y2="342.4" stroke="#1d3c7c" stroke-width="1.1"/>
<line x1="159.5" y1="340.0" x2="159.5" y2="343.2" stroke="#1d3c7c" stroke-width="1.1"/>
<line x1="163.3" y1="340.4" x2="163.3" y2="343.6" stroke="#1d3c7c" stroke-width="1.1"/>
<line x1="167.5" y1="340.7" x2="167.5" y2="343.9" stroke="#1d3c7c" stroke-width="1.1"/>
<line x1="173.0" y1="341.9" x2="173.0" y2="345.1" stroke="#1d3c7c" stroke-width="1.1"/>
<line x1="178.3" y1="343.9" x2="178.3" y2="347.1" stroke="#1d3c7c" stroke-width="1.1"/>
<line x1="183.7" y1="345.8" x2="183.7" y2="349.0" stroke="#1d3c7c" stroke-width="1.1"/>
<line x1="186.9" y1="346.4" x2="186.9" y2="349.6" stroke="#1d3c7c" stroke-width="1.1"/>
<line x1="190.5" y1="347.8" x2="190.5" y2="351.0" stroke="#1d3c7c" stroke-width="1.1"/>
<line x1="194.0" y1="349.1" x2="194.0" y2="352.3" stroke="#1d3c7c" stroke-width="1.1"/>
<line x1="199.5" y1="350.6" x2="199.5" y2="353.8" stroke="#1d3c7c" stroke-width="1.1"/>
<line x1="205.3" y1="353.0" x2="205.3" y2="356.2" stroke="#1d3c7c" stroke-width="1.1"/>
<line x1="207.9" y1="353.0" x2="207.9" y2="356.2" stroke="#1d3c7c" stroke-width="1.1"/>
<line x1="210.6" y1="353.0" x2="210.6" y2="356.2" stroke="#1d3c7c" stroke-width="1.1"/>
<line x1="213.6" y1="353.1" x2="213.6" y2="356.3" stroke="#1d3c7c" stroke-width="1.1"/>
<line x1="216.5" y1="353.1" x2="216.5" y2="356.3" stroke="#1d3c7c" stroke-width="1.1"/>
<line x1="220.4" y1="357.0" x2="220.4" y2="360.2" stroke="#1d3c7c" stroke-width="1.1"/>
<line x1="224.8" y1="357.1" x2="224.8" y2="360.3" stroke="#1d3c7c" stroke-width="1.1"/>
<line x1="227.8" y1="357.1" x2="227.8" y2="360.4" stroke="#1d3c7c" stroke-width="1.1"/>
<line x1="229.9" y1="357.2" x2="229.9" y2="360.4" stroke="#1d3c7c" stroke-width="1.1"/>
<line x1="233.5" y1="357.3" x2="233.5" y2="360.5" stroke="#1d3c7c" stroke-width="1.1"/>
<line x1="237.0" y1="357.4" x2="237.0" y2="360.6" stroke="#1d3c7c" stroke-width="1.1"/>
<line x1="241.3" y1="357.4" x2="241.3" y2="360.7" stroke="#1d3c7c" stroke-width="1.1"/>
<line x1="247.1" y1="372.5" x2="247.1" y2="375.7" stroke="#1d3c7c" stroke-width="1.1"/>
<line x1="251.8" y1="372.5" x2="251.8" y2="375.7" stroke="#1d3c7c" stroke-width="1.1"/>
<line x1="255.9" y1="372.5" x2="255.9" y2="375.7" stroke="#1d3c7c" stroke-width="1.1"/>
<line x1="260.4" y1="372.5" x2="260.4" y2="375.7" stroke="#1d3c7c" stroke-width="1.1"/>
<line x1="264.0" y1="372.5" x2="264.0" y2="375.7" stroke="#1d3c7c" stroke-width="1.1"/>
<line x1="222.0" y1="396.6" x2="222.0" y2="400.2" stroke="#ad0a35" stroke-width="1.1"/>
<line x1="226.0" y1="396.6" x2="226.0" y2="400.2" stroke="#ad0a35" stroke-width="1.1"/>
<line x1="230.0" y1="396.6" x2="230.0" y2="400.2" stroke="#ad0a35" stroke-width="1.1"/>
<line x1="234.0" y1="396.6" x2="234.0" y2="400.2" stroke="#ad0a35" stroke-width="1.1"/>
<polyline points="326.4,284.0 327.4,284.0 327.4,284.8 329.5,284.8 329.5,285.6 331.6,285.6 331.6,286.4 332.7,286.4 333.8,286.4 333.8,286.8 335.9,286.8 335.9,287.2 338.1,287.2 338.1,287.7 340.2,287.7 340.2,288.1 341.3,288.1 342.5,288.1 342.5,289.3 344.8,289.3 344.8,290.4 347.1,290.4 347.1,291.6 348.2,291.6 349.4,291.6 349.4,292.2 351.7,292.2 351.7,292.7 354.0,292.7 354.0,293.3 355.2,293.3 356.5,293.3 356.5,294.9 359.0,294.9 359.0,296.4 360.3,296.4 361.4,296.4 361.4,296.7 363.6,296.7 363.6,297.0 365.7,297.0 365.7,297.3 367.9,297.3 367.9,297.6 369.0,297.6 370.3,297.6 370.3,298.5 372.9,298.5 372.9,299.4 374.2,299.4 375.1,299.4 375.1,300.5 376.8,300.5 376.8,301.6 377.7,301.6 378.9,301.6 378.9,301.8 381.1,301.8 381.1,302.1 383.5,302.1 383.5,302.3 384.6,302.3 385.7,302.3 385.7,302.6 387.8,302.6 387.8,303.0 390.0,303.0 390.0,303.4 392.1,303.4 392.1,303.7 393.2,303.7 394.4,303.7 394.4,304.2 396.7,304.2 396.7,304.6 399.0,304.6 399.0,305.1 400.2,305.1 401.5,305.1 401.5,306.4 404.0,306.4 404.0,307.7 405.3,307.7 406.5,307.7 406.5,308.3 408.8,308.3 408.8,308.9 411.1,308.9 411.1,309.6 413.4,309.6 413.4,310.2 414.6,310.2 415.8,310.2 415.8,310.5 418.2,310.5 418.2,310.9 420.6,310.9 420.6,311.2 423.0,311.2 423.0,311.5 424.2,311.5 425.4,311.5 425.4,312.1 427.8,312.1 427.8,312.8 430.2,312.8 430.2,313.4 432.6,313.4 432.6,314.0 433.8,314.0 434.9,314.0 434.9,314.2 437.1,314.2 437.1,314.5 439.2,314.5 439.2,314.8 441.4,314.8 441.4,315.0 442.5,315.0 443.7,315.0 443.7,315.5 446.1,315.5 446.1,315.9 448.5,315.9 448.5,316.4 450.9,316.4 450.9,316.9 452.1,316.9 453.2,316.9 453.2,317.4 455.4,317.4 455.4,318.0 457.7,318.0 457.7,318.5 458.8,318.5 459.8,318.5 459.8,320.8 460.8,320.8 498.3,320.8" fill="none" stroke="#1d3c7c" stroke-width="2.1" stroke-linejoin="miter" stroke-linecap="butt"/>
<polyline points="326.4,284.0 352.0,284.0 352.0,287.2 359.5,287.2 359.5,290.7 371.6,290.7 371.6,294.2 374.2,294.2 374.2,297.6 376.8,297.6 376.8,301.1 380.2,301.1 380.2,304.5 411.5,304.5 411.5,308.3 425.2,308.3 425.2,312.7 432.9,312.7 432.9,321.7 439.2,321.7 439.2,328.1 473.3,328.1" fill="none" stroke="#ad0a35" stroke-width="2.0" stroke-linejoin="miter" stroke-linecap="butt"/>
<line x1="351.4" y1="290.6" x2="351.4" y2="293.8" stroke="#1d3c7c" stroke-width="1.1"/>
<line x1="353.6" y1="291.1" x2="353.6" y2="294.3" stroke="#1d3c7c" stroke-width="1.1"/>
<line x1="359.2" y1="294.8" x2="359.2" y2="298.0" stroke="#1d3c7c" stroke-width="1.1"/>
<line x1="364.3" y1="295.4" x2="364.3" y2="298.6" stroke="#1d3c7c" stroke-width="1.1"/>
<line x1="369.8" y1="296.0" x2="369.8" y2="299.2" stroke="#1d3c7c" stroke-width="1.1"/>
<line x1="375.0" y1="297.8" x2="375.0" y2="301.0" stroke="#1d3c7c" stroke-width="1.1"/>
<line x1="378.6" y1="300.0" x2="378.6" y2="303.2" stroke="#1d3c7c" stroke-width="1.1"/>
<line x1="382.2" y1="300.5" x2="382.2" y2="303.7" stroke="#1d3c7c" stroke-width="1.1"/>
<line x1="384.6" y1="300.7" x2="384.6" y2="303.9" stroke="#1d3c7c" stroke-width="1.1"/>
<line x1="389.1" y1="301.4" x2="389.1" y2="304.6" stroke="#1d3c7c" stroke-width="1.1"/>
<line x1="391.4" y1="301.8" x2="391.4" y2="305.0" stroke="#1d3c7c" stroke-width="1.1"/>
<line x1="393.7" y1="302.1" x2="393.7" y2="305.3" stroke="#1d3c7c" stroke-width="1.1"/>
<line x1="396.5" y1="302.6" x2="396.5" y2="305.8" stroke="#1d3c7c" stroke-width="1.1"/>
<line x1="399.1" y1="303.5" x2="399.1" y2="306.7" stroke="#1d3c7c" stroke-width="1.1"/>
<line x1="402.5" y1="304.8" x2="402.5" y2="308.0" stroke="#1d3c7c" stroke-width="1.1"/>
<line x1="404.7" y1="306.1" x2="404.7" y2="309.3" stroke="#1d3c7c" stroke-width="1.1"/>
<line x1="406.7" y1="306.7" x2="406.7" y2="309.9" stroke="#1d3c7c" stroke-width="1.1"/>
<line x1="409.3" y1="307.3" x2="409.3" y2="310.6" stroke="#1d3c7c" stroke-width="1.1"/>
<line x1="411.7" y1="308.0" x2="411.7" y2="311.2" stroke="#1d3c7c" stroke-width="1.1"/>
<line x1="415.2" y1="308.6" x2="415.2" y2="311.8" stroke="#1d3c7c" stroke-width="1.1"/>
<line x1="417.3" y1="308.9" x2="417.3" y2="312.1" stroke="#1d3c7c" stroke-width="1.1"/>
<line x1="422.8" y1="309.6" x2="422.8" y2="312.8" stroke="#1d3c7c" stroke-width="1.1"/>
<line x1="427.2" y1="310.5" x2="427.2" y2="313.7" stroke="#1d3c7c" stroke-width="1.1"/>
<line x1="429.8" y1="311.1" x2="429.8" y2="314.4" stroke="#1d3c7c" stroke-width="1.1"/>
<line x1="432.8" y1="312.4" x2="432.8" y2="315.6" stroke="#1d3c7c" stroke-width="1.1"/>
<line x1="436.2" y1="312.6" x2="436.2" y2="315.9" stroke="#1d3c7c" stroke-width="1.1"/>
<line x1="439.7" y1="313.1" x2="439.7" y2="316.4" stroke="#1d3c7c" stroke-width="1.1"/>
<line x1="442.2" y1="313.4" x2="442.2" y2="316.6" stroke="#1d3c7c" stroke-width="1.1"/>
<line x1="447.6" y1="314.3" x2="447.6" y2="317.6" stroke="#1d3c7c" stroke-width="1.1"/>
<line x1="453.5" y1="315.8" x2="453.5" y2="319.0" stroke="#1d3c7c" stroke-width="1.1"/>
<line x1="457.4" y1="316.4" x2="457.4" y2="319.6" stroke="#1d3c7c" stroke-width="1.1"/>
<line x1="461.3" y1="319.2" x2="461.3" y2="322.4" stroke="#1d3c7c" stroke-width="1.1"/>
<line x1="463.7" y1="319.2" x2="463.7" y2="322.4" stroke="#1d3c7c" stroke-width="1.1"/>
<line x1="466.1" y1="319.2" x2="466.1" y2="322.4" stroke="#1d3c7c" stroke-width="1.1"/>
<line x1="469.5" y1="319.2" x2="469.5" y2="322.4" stroke="#1d3c7c" stroke-width="1.1"/>
<line x1="472.5" y1="319.2" x2="472.5" y2="322.4" stroke="#1d3c7c" stroke-width="1.1"/>
<line x1="477.8" y1="319.2" x2="477.8" y2="322.4" stroke="#1d3c7c" stroke-width="1.1"/>
<line x1="480.5" y1="319.2" x2="480.5" y2="322.4" stroke="#1d3c7c" stroke-width="1.1"/>
<line x1="482.6" y1="319.2" x2="482.6" y2="322.4" stroke="#1d3c7c" stroke-width="1.1"/>
<line x1="488.4" y1="319.2" x2="488.4" y2="322.4" stroke="#1d3c7c" stroke-width="1.1"/>
<line x1="492.5" y1="319.2" x2="492.5" y2="322.4" stroke="#1d3c7c" stroke-width="1.1"/>
<line x1="495.1" y1="319.2" x2="495.1" y2="322.4" stroke="#1d3c7c" stroke-width="1.1"/>
<line x1="497.5" y1="319.2" x2="497.5" y2="322.4" stroke="#1d3c7c" stroke-width="1.1"/>
<line x1="414.0" y1="306.5" x2="414.0" y2="310.1" stroke="#ad0a35" stroke-width="1.1"/>
<line x1="418.0" y1="306.5" x2="418.0" y2="310.1" stroke="#ad0a35" stroke-width="1.1"/>
<line x1="445.0" y1="326.3" x2="445.0" y2="329.9" stroke="#ad0a35" stroke-width="1.1"/>
<line x1="451.0" y1="326.3" x2="451.0" y2="329.9" stroke="#ad0a35" stroke-width="1.1"/>
<line x1="456.0" y1="326.3" x2="456.0" y2="329.9" stroke="#ad0a35" stroke-width="1.1"/>
<line x1="461.0" y1="326.3" x2="461.0" y2="329.9" stroke="#ad0a35" stroke-width="1.1"/>
<line x1="467.0" y1="326.3" x2="467.0" y2="329.9" stroke="#ad0a35" stroke-width="1.1"/>
<line x1="472.0" y1="326.3" x2="472.0" y2="329.9" stroke="#ad0a35" stroke-width="1.1"/>
<polyline points="91.0,515.3 92.0,515.3 92.0,515.8 93.9,515.8 93.9,516.3 94.9,516.3 95.8,516.3 95.8,516.8 97.5,516.8 97.5,517.2 98.4,517.2 99.2,517.2 99.2,519.0 101.0,519.0 101.0,520.7 101.8,520.7 102.7,520.7 102.7,523.3 104.4,523.3 104.4,525.9 105.3,525.9 106.0,525.9 106.0,528.5 107.5,528.5 107.5,531.1 108.2,531.1 108.7,531.1 108.7,533.0 109.6,533.0 109.6,534.9 110.6,534.9 110.6,536.8 111.1,536.8 111.5,536.8 111.5,539.0 112.2,539.0 112.2,541.1 112.9,541.1 112.9,543.3 113.6,543.3 113.6,545.5 114.0,545.5 114.8,545.5 114.8,547.2 115.7,547.2 116.4,547.2 116.4,549.0 117.9,549.0 117.9,550.7 118.6,550.7 120.0,550.7 120.0,552.4 121.5,552.4 122.3,552.4 122.3,553.3 124.1,553.3 124.1,554.2 124.9,554.2 125.8,554.2 125.8,555.9 127.5,555.9 127.5,557.6 128.4,557.6 129.5,557.6 129.5,559.0 131.8,559.0 131.8,560.5 133.0,560.5 134.4,560.5 134.4,561.5 137.1,561.5 137.1,562.4 138.5,562.4 139.2,562.4 139.2,564.2 140.8,564.2 140.8,566.0 141.5,566.0 142.5,566.0 142.5,566.9 144.6,566.9 144.6,567.8 146.7,567.8 146.7,568.6 148.8,568.6 148.8,569.5 150.9,569.5 150.9,570.4 151.9,570.4 152.4,570.4 152.4,572.1 153.2,572.1 153.2,573.9 153.7,573.9 154.7,573.9 154.7,574.2 156.7,574.2 156.7,574.5 158.7,574.5 158.7,574.8 160.8,574.8 160.8,575.0 162.8,575.0 162.8,575.3 164.8,575.3 164.8,575.6 165.8,575.6 166.8,575.6 166.8,576.1 168.9,576.1 168.9,576.6 171.0,576.6 171.0,577.2 173.1,577.2 173.1,577.7 175.2,577.7 175.2,578.2 176.2,578.2 177.1,578.2 177.1,578.5 179.1,578.5 179.1,578.9 180.0,578.9 181.2,578.9 181.2,579.4 183.4,579.4 183.4,579.9 185.8,579.9 185.8,580.4 186.9,580.4 188.0,580.4 188.0,581.8 190.2,581.8 190.2,583.2 192.3,583.2 192.3,584.6 194.5,584.6 194.5,586.0 195.6,586.0 196.6,586.0 196.6,586.8 198.7,586.8 198.7,587.5 200.8,587.5 200.8,588.3 202.9,588.3 202.9,589.0 205.0,589.0 205.0,589.8 206.0,589.8 207.1,589.8 207.1,590.1 209.4,590.1 209.4,590.4 211.6,590.4 211.6,590.6 213.8,590.6 213.8,590.9 216.1,590.9 216.1,591.2 217.2,591.2 217.8,591.2 217.8,592.9 219.2,592.9 219.2,594.6 219.8,594.6 220.7,594.6 220.7,595.7 222.4,595.7 222.4,596.7 223.3,596.7 243.7,596.7 243.7,610.2 264.8,610.2" fill="none" stroke="#1d3c7c" stroke-width="2.1" stroke-linejoin="miter" stroke-linecap="butt"/>
<polyline points="91.0,515.3 97.8,515.3 97.8,522.8 104.3,522.8 104.3,530.0 104.8,530.0 104.8,537.0 105.3,537.0 105.3,551.3 109.3,551.3 109.3,557.8 113.0,557.8 113.0,565.0 113.8,565.0 113.8,572.2 116.4,572.2 116.4,579.8 126.3,579.8 126.3,594.1 128.6,594.1 128.6,600.7 140.7,600.7 140.7,608.8 163.7,608.8 163.7,616.5 242.3,616.5" fill="none" stroke="#ad0a35" stroke-width="2.0" stroke-linejoin="miter" stroke-linecap="butt"/>
<line x1="116.0" y1="545.6" x2="116.0" y2="548.8" stroke="#1d3c7c" stroke-width="1.1"/>
<line x1="118.1" y1="549.1" x2="118.1" y2="552.3" stroke="#1d3c7c" stroke-width="1.1"/>
<line x1="122.2" y1="550.8" x2="122.2" y2="554.0" stroke="#1d3c7c" stroke-width="1.1"/>
<line x1="128.1" y1="556.0" x2="128.1" y2="559.2" stroke="#1d3c7c" stroke-width="1.1"/>
<line x1="133.6" y1="558.9" x2="133.6" y2="562.1" stroke="#1d3c7c" stroke-width="1.1"/>
<line x1="138.4" y1="560.8" x2="138.4" y2="564.0" stroke="#1d3c7c" stroke-width="1.1"/>
<line x1="141.4" y1="564.4" x2="141.4" y2="567.6" stroke="#1d3c7c" stroke-width="1.1"/>
<line x1="144.9" y1="566.2" x2="144.9" y2="569.4" stroke="#1d3c7c" stroke-width="1.1"/>
<line x1="147.6" y1="567.0" x2="147.6" y2="570.2" stroke="#1d3c7c" stroke-width="1.1"/>
<line x1="152.6" y1="570.5" x2="152.6" y2="573.8" stroke="#1d3c7c" stroke-width="1.1"/>
<line x1="156.8" y1="572.9" x2="156.8" y2="576.1" stroke="#1d3c7c" stroke-width="1.1"/>
<line x1="161.9" y1="573.4" x2="161.9" y2="576.6" stroke="#1d3c7c" stroke-width="1.1"/>
<line x1="165.2" y1="574.0" x2="165.2" y2="577.2" stroke="#1d3c7c" stroke-width="1.1"/>
<line x1="168.1" y1="574.5" x2="168.1" y2="577.7" stroke="#1d3c7c" stroke-width="1.1"/>
<line x1="173.3" y1="576.1" x2="173.3" y2="579.3" stroke="#1d3c7c" stroke-width="1.1"/>
<line x1="179.3" y1="577.3" x2="179.3" y2="580.5" stroke="#1d3c7c" stroke-width="1.1"/>
<line x1="184.7" y1="578.3" x2="184.7" y2="581.5" stroke="#1d3c7c" stroke-width="1.1"/>
<line x1="189.9" y1="580.2" x2="189.9" y2="583.4" stroke="#1d3c7c" stroke-width="1.1"/>
<line x1="195.2" y1="584.4" x2="195.2" y2="587.6" stroke="#1d3c7c" stroke-width="1.1"/>
<line x1="200.2" y1="585.9" x2="200.2" y2="589.1" stroke="#1d3c7c" stroke-width="1.1"/>
<line x1="203.1" y1="587.4" x2="203.1" y2="590.6" stroke="#1d3c7c" stroke-width="1.1"/>
<line x1="207.1" y1="588.2" x2="207.1" y2="591.4" stroke="#1d3c7c" stroke-width="1.1"/>
<line x1="210.6" y1="588.8" x2="210.6" y2="592.0" stroke="#1d3c7c" stroke-width="1.1"/>
<line x1="212.7" y1="589.0" x2="212.7" y2="592.2" stroke="#1d3c7c" stroke-width="1.1"/>
<line x1="214.8" y1="589.3" x2="214.8" y2="592.5" stroke="#1d3c7c" stroke-width="1.1"/>
<line x1="217.9" y1="591.3" x2="217.9" y2="594.5" stroke="#1d3c7c" stroke-width="1.1"/>
<line x1="220.9" y1="594.1" x2="220.9" y2="597.3" stroke="#1d3c7c" stroke-width="1.1"/>
<line x1="225.7" y1="595.1" x2="225.7" y2="598.3" stroke="#1d3c7c" stroke-width="1.1"/>
<line x1="231.5" y1="595.1" x2="231.5" y2="598.3" stroke="#1d3c7c" stroke-width="1.1"/>
<line x1="235.3" y1="595.1" x2="235.3" y2="598.3" stroke="#1d3c7c" stroke-width="1.1"/>
<line x1="241.1" y1="595.1" x2="241.1" y2="598.3" stroke="#1d3c7c" stroke-width="1.1"/>
<line x1="247.0" y1="608.6" x2="247.0" y2="611.8" stroke="#1d3c7c" stroke-width="1.1"/>
<line x1="252.8" y1="608.6" x2="252.8" y2="611.8" stroke="#1d3c7c" stroke-width="1.1"/>
<line x1="256.3" y1="608.6" x2="256.3" y2="611.8" stroke="#1d3c7c" stroke-width="1.1"/>
<line x1="259.2" y1="608.6" x2="259.2" y2="611.8" stroke="#1d3c7c" stroke-width="1.1"/>
<line x1="262.1" y1="608.6" x2="262.1" y2="611.8" stroke="#1d3c7c" stroke-width="1.1"/>
<line x1="264.0" y1="608.6" x2="264.0" y2="611.8" stroke="#1d3c7c" stroke-width="1.1"/>
<line x1="196.0" y1="614.7" x2="196.0" y2="618.3" stroke="#ad0a35" stroke-width="1.1"/>
<line x1="233.0" y1="614.7" x2="233.0" y2="618.3" stroke="#ad0a35" stroke-width="1.1"/>
<line x1="242.0" y1="614.7" x2="242.0" y2="618.3" stroke="#ad0a35" stroke-width="1.1"/>
<polyline points="326.2,514.0 327.7,514.0 327.7,515.5 329.2,515.5 330.2,515.5 330.2,515.7 332.1,515.7 332.1,516.0 334.1,516.0 334.1,516.2 336.0,516.2 336.0,516.4 337.0,516.4 338.0,516.4 338.0,516.8 339.9,516.8 339.9,517.2 341.9,517.2 341.9,517.7 343.8,517.7 343.8,518.1 344.8,518.1 345.9,518.1 345.9,518.5 348.0,518.5 348.0,519.0 350.2,519.0 350.2,519.4 352.3,519.4 352.3,519.8 353.4,519.8 354.5,519.8 354.5,521.0 356.9,521.0 356.9,522.1 359.1,522.1 359.1,523.3 360.3,523.3 361.4,523.3 361.4,523.5 363.6,523.5 363.6,523.8 365.7,523.8 365.7,524.0 367.9,524.0 367.9,524.2 369.0,524.2 370.2,524.2 370.2,525.2 372.4,525.2 372.4,526.1 374.8,526.1 374.8,527.1 375.9,527.1 377.0,527.1 377.0,527.5 379.2,527.5 379.2,528.0 381.3,528.0 381.3,528.4 383.5,528.4 383.5,528.8 384.6,528.8 385.7,528.8 385.7,529.1 387.8,529.1 387.8,529.5 390.0,529.5 390.0,529.9 392.1,529.9 392.1,530.2 393.2,530.2 394.3,530.2 394.3,530.7 396.5,530.7 396.5,531.2 398.6,531.2 398.6,531.8 400.8,531.8 400.8,532.3 401.9,532.3 403.4,532.3 403.4,533.8 405.0,533.8 406.1,533.8 406.1,534.1 408.3,534.1 408.3,534.4 410.4,534.4 410.4,534.7 412.6,534.7 412.6,535.0 413.7,535.0 415.1,535.0 415.1,536.9 416.5,536.9 417.6,536.9 417.6,537.1 419.9,537.1 419.9,537.4 422.1,537.4 422.1,537.6 424.4,537.6 424.4,537.8 426.6,537.8 426.6,538.1 428.9,538.1 428.9,538.3 430.0,538.3 430.9,538.3 430.9,539.9 432.9,539.9 432.9,541.5 433.8,541.5 435.0,541.5 435.0,542.1 437.4,542.1 437.4,542.8 439.9,542.8 439.9,543.4 442.3,543.4 442.3,544.0 443.5,544.0 444.6,544.0 444.6,544.4 446.6,544.4 446.6,544.8 448.8,544.8 448.8,545.2 450.8,545.2 450.8,545.6 452.9,545.6 452.9,546.0 454.0,546.0 455.1,546.0 455.1,546.4 457.4,546.4 457.4,546.9 459.7,546.9 459.7,547.3 460.8,547.3 461.2,547.3 461.2,549.4 461.7,549.4 499.2,549.4" fill="none" stroke="#1d3c7c" stroke-width="2.1" stroke-linejoin="miter" stroke-linecap="butt"/>
<polyline points="326.2,514.0 337.5,514.0 337.5,521.2 347.9,521.2 347.9,528.0 351.3,528.0 351.3,535.4 356.0,535.4 356.0,542.3 369.3,542.3 369.3,549.3 374.2,549.3 374.2,557.6 376.8,557.6 376.8,564.8 380.2,564.8 380.2,572.1 411.5,572.1 411.5,581.3 425.8,581.3 425.8,591.5 473.8,591.5" fill="none" stroke="#ad0a35" stroke-width="2.0" stroke-linejoin="miter" stroke-linecap="butt"/>
<line x1="351.2" y1="517.8" x2="351.2" y2="521.0" stroke="#1d3c7c" stroke-width="1.1"/>
<line x1="354.0" y1="518.2" x2="354.0" y2="521.4" stroke="#1d3c7c" stroke-width="1.1"/>
<line x1="358.5" y1="520.5" x2="358.5" y2="523.7" stroke="#1d3c7c" stroke-width="1.1"/>
<line x1="364.1" y1="522.1" x2="364.1" y2="525.4" stroke="#1d3c7c" stroke-width="1.1"/>
<line x1="369.5" y1="522.6" x2="369.5" y2="525.8" stroke="#1d3c7c" stroke-width="1.1"/>
<line x1="373.4" y1="524.5" x2="373.4" y2="527.7" stroke="#1d3c7c" stroke-width="1.1"/>
<line x1="378.0" y1="525.9" x2="378.0" y2="529.1" stroke="#1d3c7c" stroke-width="1.1"/>
<line x1="383.2" y1="526.8" x2="383.2" y2="530.0" stroke="#1d3c7c" stroke-width="1.1"/>
<line x1="385.5" y1="527.2" x2="385.5" y2="530.4" stroke="#1d3c7c" stroke-width="1.1"/>
<line x1="390.2" y1="528.2" x2="390.2" y2="531.5" stroke="#1d3c7c" stroke-width="1.1"/>
<line x1="395.8" y1="529.1" x2="395.8" y2="532.3" stroke="#1d3c7c" stroke-width="1.1"/>
<line x1="401.0" y1="530.7" x2="401.0" y2="533.9" stroke="#1d3c7c" stroke-width="1.1"/>
<line x1="406.0" y1="532.2" x2="406.0" y2="535.4" stroke="#1d3c7c" stroke-width="1.1"/>
<line x1="409.9" y1="532.8" x2="409.9" y2="536.0" stroke="#1d3c7c" stroke-width="1.1"/>
<line x1="412.6" y1="533.1" x2="412.6" y2="536.3" stroke="#1d3c7c" stroke-width="1.1"/>
<line x1="417.7" y1="535.5" x2="417.7" y2="538.7" stroke="#1d3c7c" stroke-width="1.1"/>
<line x1="421.1" y1="535.8" x2="421.1" y2="539.0" stroke="#1d3c7c" stroke-width="1.1"/>
<line x1="426.3" y1="536.2" x2="426.3" y2="539.4" stroke="#1d3c7c" stroke-width="1.1"/>
<line x1="432.2" y1="538.3" x2="432.2" y2="541.5" stroke="#1d3c7c" stroke-width="1.1"/>
<line x1="435.7" y1="540.5" x2="435.7" y2="543.7" stroke="#1d3c7c" stroke-width="1.1"/>
<line x1="439.3" y1="541.1" x2="439.3" y2="544.4" stroke="#1d3c7c" stroke-width="1.1"/>
<line x1="445.1" y1="542.8" x2="445.1" y2="546.0" stroke="#1d3c7c" stroke-width="1.1"/>
<line x1="450.0" y1="543.6" x2="450.0" y2="546.8" stroke="#1d3c7c" stroke-width="1.1"/>
<line x1="452.7" y1="544.0" x2="452.7" y2="547.2" stroke="#1d3c7c" stroke-width="1.1"/>
<line x1="455.2" y1="544.8" x2="455.2" y2="548.0" stroke="#1d3c7c" stroke-width="1.1"/>
<line x1="457.8" y1="545.3" x2="457.8" y2="548.5" stroke="#1d3c7c" stroke-width="1.1"/>
<line x1="463.4" y1="547.8" x2="463.4" y2="551.0" stroke="#1d3c7c" stroke-width="1.1"/>
<line x1="468.7" y1="547.8" x2="468.7" y2="551.0" stroke="#1d3c7c" stroke-width="1.1"/>
<line x1="471.3" y1="547.8" x2="471.3" y2="551.0" stroke="#1d3c7c" stroke-width="1.1"/>
<line x1="476.6" y1="547.8" x2="476.6" y2="551.0" stroke="#1d3c7c" stroke-width="1.1"/>
<line x1="482.5" y1="547.8" x2="482.5" y2="551.0" stroke="#1d3c7c" stroke-width="1.1"/>
<line x1="487.1" y1="547.8" x2="487.1" y2="551.0" stroke="#1d3c7c" stroke-width="1.1"/>
<line x1="490.5" y1="547.8" x2="490.5" y2="551.0" stroke="#1d3c7c" stroke-width="1.1"/>
<line x1="494.7" y1="547.8" x2="494.7" y2="551.0" stroke="#1d3c7c" stroke-width="1.1"/>
<line x1="497.2" y1="547.8" x2="497.2" y2="551.0" stroke="#1d3c7c" stroke-width="1.1"/>
<line x1="498.4" y1="547.8" x2="498.4" y2="551.0" stroke="#1d3c7c" stroke-width="1.1"/>
<line x1="417.0" y1="579.5" x2="417.0" y2="583.1" stroke="#ad0a35" stroke-width="1.1"/>
<line x1="432.0" y1="589.7" x2="432.0" y2="593.3" stroke="#ad0a35" stroke-width="1.1"/>
<line x1="440.0" y1="589.7" x2="440.0" y2="593.3" stroke="#ad0a35" stroke-width="1.1"/>
<line x1="446.0" y1="589.7" x2="446.0" y2="593.3" stroke="#ad0a35" stroke-width="1.1"/>
<line x1="456.0" y1="589.7" x2="456.0" y2="593.3" stroke="#ad0a35" stroke-width="1.1"/>
<line x1="471.0" y1="589.7" x2="471.0" y2="593.3" stroke="#ad0a35" stroke-width="1.1"/>
<line x1="473.0" y1="589.7" x2="473.0" y2="593.3" stroke="#ad0a35" stroke-width="1.1"/>
</svg>
</div>
</body></html>
